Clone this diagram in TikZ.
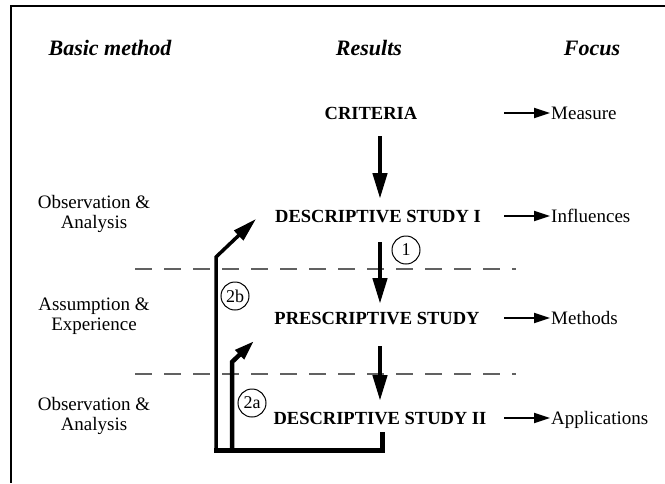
\documentclass[tikz,border=0pt]{standalone}
\usepackage{fontspec}
\setmainfont{Liberation Serif}
\usetikzlibrary{arrows.meta}
\begin{document}
\begin{tikzpicture}[x=1pt,y=-1pt,
  hdr/.style={font=\fontsize{22}{26}\selectfont\bfseries\itshape, inner sep=0},
  res/.style={font=\fontsize{18.5}{22}\selectfont\bfseries, inner sep=0, text height=12.5pt, text depth=0pt},
  lbl/.style={font=\fontsize{19}{20}\selectfont, align=center, inner sep=0},
  foc/.style={font=\fontsize{19}{22}\selectfont, anchor=west, inner sep=0, text height=12.5pt, text depth=0pt},
  bigarrow/.style={line width=4.5pt, -{Triangle[length=26pt,width=14pt]}},
  focarrow/.style={line width=2pt, -{Triangle[length=16pt,width=10pt]}},
  sep/.style={dash pattern=on 17pt off 12pt, line width=1.8pt, draw=black!62},
  num/.style={circle, draw, line width=1pt, minimum size=28pt, inner sep=0, font=\fontsize{18}{20}\selectfont},
]
\useasboundingbox (0,0) rectangle (665,483);
% frame
\draw[line width=2pt] (665,6) -- (11,6) -- (11,483);

% headers
\node[hdr] (h1) at (110,48) {Basic method};
\node[hdr] (h2) at (369,48) {Results};
\node[hdr] (h3) at (592,48) {Focus};

% left labels
\node[lbl] (l1) at (94,214) {Observation \&\\Analysis};
\node[lbl] (l2) at (94,316) {Assumption \&\\Experience};
\node[lbl] (l3) at (94,416) {Observation \&\\Analysis};

% separators
\coordinate (s1a) at (135,269);
\coordinate (s1b) at (516,269);
\coordinate (s2a) at (135,374);
\coordinate (s2b) at (516,374);
\draw[sep] (s1a) -- (s1b);
\draw[sep] (s2a) -- (s2b);

% results column
\node[res] (crit) at (371,113) {CRITERIA};
\node[res] (ds1) at (378,216) {DESCRIPTIVE STUDY I};
\node[res] (ps) at (377,318) {PRESCRIPTIVE STUDY};
\node[res] (ds2) at (380,418) {DESCRIPTIVE STUDY II};

% focus column
\node[foc] (fm) at (551,113) {Measure};
\node[foc] (fi) at (551,216) {Influences};
\node[foc] (fme) at (551,318) {Methods};
\node[foc] (fa) at (551,418) {Applications};
\draw[focarrow] ([xshift=-47pt]fm.west) -- ([xshift=-1pt]fm.west);
\draw[focarrow] ([xshift=-47pt]fi.west) -- ([xshift=-1pt]fi.west);
\draw[focarrow] ([xshift=-47pt]fme.west) -- ([xshift=-1pt]fme.west);
\draw[focarrow] ([xshift=-47pt]fa.west) -- ([xshift=-1pt]fa.west);

% main vertical arrows
\coordinate (a1s) at (380,136);
\coordinate (a1e) at (380,199);
\coordinate (a2s) at (380,242);
\coordinate (a2e) at (380,304);
\coordinate (a3s) at (380,346);
\coordinate (a3e) at (380,401);
\draw[bigarrow] (a1s) -- (a1e);
\draw[bigarrow] (a2s) -- (a2e);
\draw[bigarrow] (a3s) -- (a3e);

% feedback paths
\coordinate (brt) at (382,432);
\coordinate (br) at (382,450);
\coordinate (bl) at (214,450);
\coordinate (v2b) at (216,452);
\coordinate (c2b) at (216,257);
\coordinate (t2b) at (256,219);
\coordinate (v2a) at (232,452);
\coordinate (c2a) at (232,362);
\coordinate (t2a) at (254,341);
\draw[line width=5pt] (brt) -- (br) -- (bl);
\draw[line width=3.5pt, line join=miter, -{Triangle[length=24pt,width=13pt]}] (v2b) -- (c2b) -- (t2b);
\draw[line width=4.5pt, line join=miter, -{Triangle[length=20pt,width=12pt]}] (v2a) -- (c2a) -- (t2a);

% circled numbers
\node[num] (n1) at (406,250) {1};
\node[num] (n2b) at (235,296) {2b};
\node[num] (n2a) at (252,403) {2a};
\end{tikzpicture}
\end{document}
